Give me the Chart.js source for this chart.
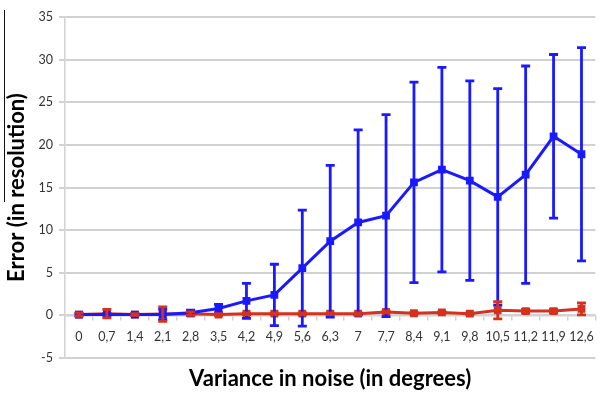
<!DOCTYPE html>
<html>
<head>
<meta charset="utf-8">
<script src="https://cdn.jsdelivr.net/npm/chart.js@4/dist/chart.umd.min.js"></script>
<style>
  html, body { margin: 0; padding: 0; background: #fff; }
  #wrap { position: relative; width: 604px; height: 393px; }
  #mark { position: absolute; left: 4px; top: 10px; width: 0; height: 192px; border-left: 1.5px solid #111; }
</style>
</head>
<body>
<div id="wrap">
  <canvas id="c" width="604" height="393"></canvas>
  <div id="mark"></div>
</div>
<script>
const categories = ['0','0,7','1,4','2,1','2,8','3,5','4,2','4,9','5,6','6,3','7','7,7','8,4','9,1','9,8','10,5','11,2','11,9','12,6'];
const blueValues = [0.1, 0.1, 0.1, 0.1, 0.3, 0.8, 1.7, 2.4, 5.55, 8.7, 10.9, 11.7, 15.6, 17.1, 15.8, 13.9, 16.5, 21.0, 18.9];
const blueErrors = [0.1, 0.1, 0.1, 0.6, 0.3, 0.5, 2.05, 3.6, 6.8, 8.9, 10.85, 11.85, 11.75, 12.0, 11.7, 12.7, 12.75, 9.6, 12.5];
const redValues  = [0.1, 0.2, 0.1, 0.15, 0.2, 0.1, 0.2, 0.2, 0.2, 0.2, 0.2, 0.4, 0.25, 0.35, 0.2, 0.6, 0.5, 0.5, 0.75];
const redErrors  = [0.2, 0.5, 0.1, 0.85, 0.2, 0.1, 0.1, 0.1, 0.1, 0.1, 0.1, 0.1, 0.1, 0.1, 0.1, 1.0, 0.2, 0.2, 0.7];
const yTicks = { min: -5, max: 35, step: 5 };

const BLUE = '#1a1aff';
const RED = '#d3321f';
const GRID = '#d2d2d2';
const FONT = 'Lato, "Open Sans", sans-serif';

const errorBars = {
  id: 'errorBars',
  afterDatasetsDraw(chart) {
    const ctx = chart.ctx;
    const x = chart.scales.x, y = chart.scales.y;
    const sets = [
      { vals: blueValues, errs: blueErrors, color: BLUE },
      { vals: redValues, errs: redErrors, color: RED }
    ];
    ctx.save();
    sets.forEach(s => {
      ctx.strokeStyle = s.color;
      ctx.lineWidth = 2.8;
      s.vals.forEach((v, i) => {
        const px = x.getPixelForValue(i);
        const top = y.getPixelForValue(v + s.errs[i]);
        const bot = y.getPixelForValue(v - s.errs[i]);
        ctx.beginPath();
        ctx.moveTo(px, top); ctx.lineTo(px, bot);
        ctx.moveTo(px - 4.5, top); ctx.lineTo(px + 4.5, top);
        ctx.moveTo(px - 4.5, bot); ctx.lineTo(px + 4.5, bot);
        ctx.stroke();
      });
    });
    ctx.restore();
  }
};

new Chart(document.getElementById('c'), {
  type: 'line',
  data: {
    labels: categories,
    datasets: [
      { label: 'red', data: redValues, borderColor: RED, backgroundColor: RED, borderWidth: 3,
        pointStyle: 'rect', pointRadius: 5.5, pointBorderWidth: 0, tension: 0, order: 2 },
      { label: 'blue', data: blueValues, borderColor: BLUE, backgroundColor: BLUE, borderWidth: 3,
        pointStyle: 'rect', pointRadius: 5.5, pointBorderWidth: 0, tension: 0, order: 1 }
    ]
  },
  options: {
    responsive: false,
    animation: false,
    devicePixelRatio: 1,
    layout: { padding: { top: 17, right: 0, left: 0, bottom: 0 } },
    plugins: { legend: { display: false }, tooltip: { enabled: false } },
    scales: {
      x: {
        type: 'category',
        position: 'bottom',
        offset: true,
        grid: { display: false },
        border: { display: false },
        ticks: { display: false },
        title: { display: true, text: 'Variance in noise (in degrees)', color: '#000',
                 font: { family: FONT, size: 22, weight: 'bold' }, padding: { top: 0, bottom: 1 } },
        afterFit(s) { s.height = 35; }
      },
      x2: {
        type: 'category',
        position: { y: 0 },
        offset: true,
        grid: { drawOnChartArea: false, drawTicks: true, tickLength: 4, color: GRID, lineWidth: 1.5, offset: true },
        border: { display: true, color: GRID, width: 1.5 },
        ticks: { color: '#333', font: { family: FONT, size: 12.5 }, padding: 10, maxRotation: 0, autoSkip: false }
      },
      y: {
        type: 'linear',
        min: yTicks.min, max: yTicks.max,
        ticks: { stepSize: yTicks.step, color: '#333', font: { family: FONT, size: 12.5 }, padding: 6 },
        grid: { color: GRID, lineWidth: 2, tickLength: 6, drawTicks: true },
        border: { display: true, color: GRID, width: 1.5 },
        title: { display: true, text: 'Error (in resolution)', color: '#000',
                 font: { family: FONT, size: 22, weight: 'bold' }, padding: { top: 4, bottom: 0 } },
        afterFit(s) { s.width = 65; }
      }
    }
  },
  plugins: [errorBars]
});
</script>
</body>
</html>
